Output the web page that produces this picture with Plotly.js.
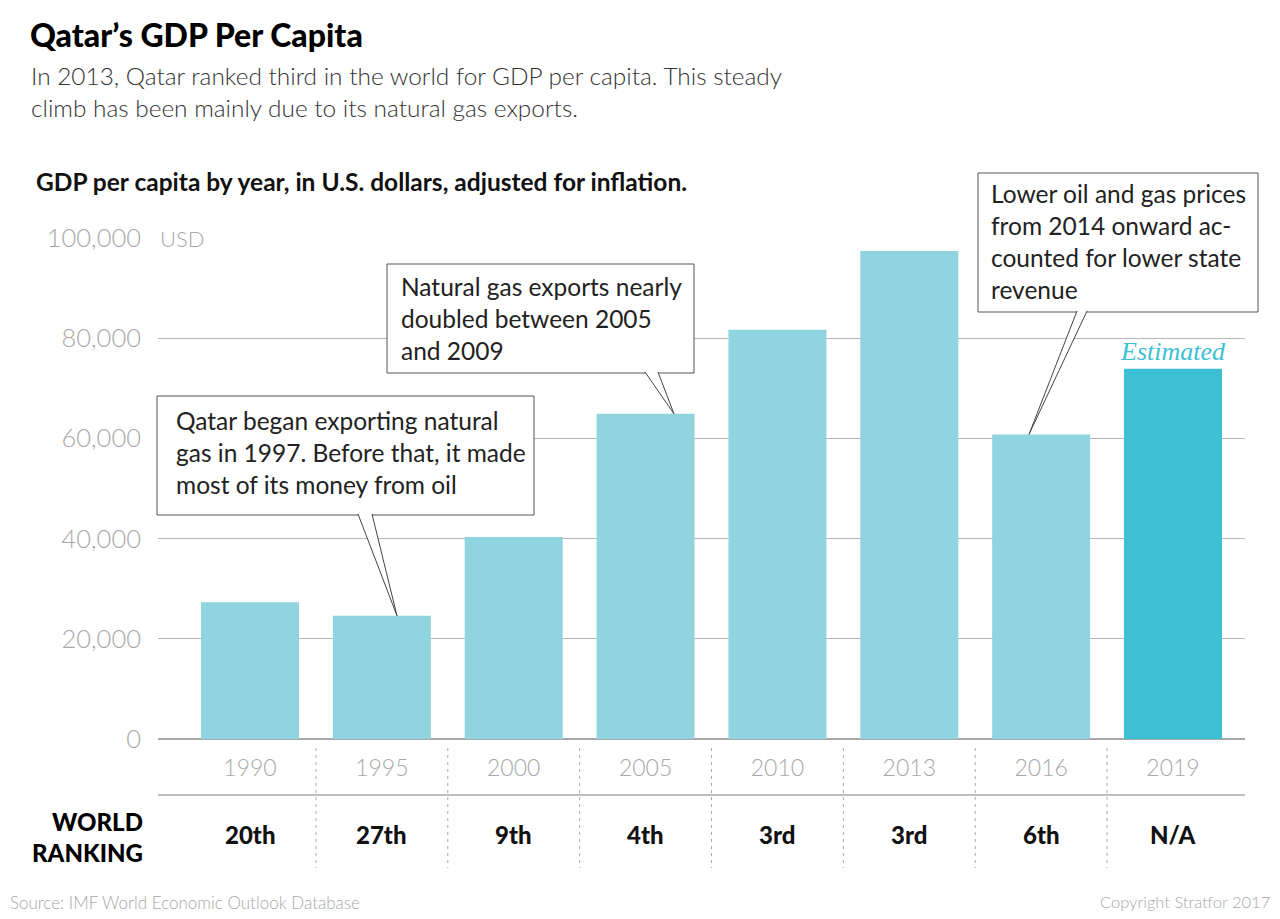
<!DOCTYPE html>
<html>
<head>
<meta charset="utf-8">
<script src="https://cdn.plot.ly/plotly-3.0.1.min.js"></script>
<style>
  html, body { margin: 0; padding: 0; background: #fff; }
  #chart { width: 1280px; height: 919px; }
</style>
</head>
<body>
<div id="chart"></div>
<script>
// Qatar GDP per capita (USD, inflation adjusted) and world ranking by year
const years = ['1990', '1995', '2000', '2005', '2010', '2013', '2016', '2019'];
const gdpPerCapita = [27300, 24600, 40300, 64900, 81700, 97400, 60800, 73900];
const worldRanking = ['20th', '27th', '9th', '4th', '3rd', '3rd', '6th', 'N/A'];
const isEstimate = [false, false, false, false, false, false, false, true];
const yTicks = [0, 20000, 40000, 60000, 80000, 100000];

// Callout notes: text and the bar each one points at
const noteTexts = [
  'Qatar began exporting natural<br>gas in 1997. Before that, it made<br>most of its money from oil',
  'Natural gas exports nearly<br>doubled between 2005<br>and 2009',
  'Lower oil and gas prices<br>from 2014 onward ac-<br>counted for lower state<br>revenue'
];
const noteTargets = ['1995', '2005', '2016'];

// ---- layout geometry (pixels) ----
const W = 1280, H = 919;
const M = { l: 158, r: 35, t: 238, b: 180 };
const PW = W - M.l - M.r, PH = H - M.t - M.b;
const YMAX = 100000;
const px = p => (p - M.l) / PW;          // page x -> paper x
const py = p => (H - M.b - p) / PH;      // page y -> paper y
const pyData = p => py(p) * YMAX;        // page y -> data y

const BAR_LIGHT = '#8fd4de';
const BAR_DARK = '#3dbfd4';
const GRID = '#b5b5b5';
const MUTED = '#a8a8a8';
const SANS = 'Lato, "Open Sans", sans-serif';

// callout box rectangles and pointer bases (page pixels)
const noteBoxes = [
  { x0: 157, x1: 534, y0: 396, y1: 515, tx: 174, ty: 404, base: [358, 372] },
  { x0: 387, x1: 694, y0: 264, y1: 373, tx: 399, ty: 270, base: [645, 658] },
  { x0: 978, x1: 1258, y0: 173, y1: 312, tx: 989, ty: 177, base: [1077, 1087] }
];
// pointer tip x positions (page pixels), tip y comes from the bar value
const noteTipX = [397, 674, 1029];

const barTrace = {
  type: 'bar',
  x: years,
  y: gdpPerCapita,
  width: 0.743,
  marker: { color: isEstimate.map(e => e ? BAR_DARK : BAR_LIGHT), line: { width: 0 } },
  hoverinfo: 'skip'
};

const shapes = [];
const annotations = [];

// hide the start of the top gridline where the unit label sits
shapes.push({
  type: 'rect', xref: 'paper', yref: 'paper', layer: 'above',
  x0: -0.002, x1: px(211), y0: py(241), y1: py(235),
  fillcolor: '#fff', line: { width: 0 }
});
annotations.push({
  xref: 'paper', yref: 'y', x: 0, y: YMAX, xanchor: 'left', yanchor: 'middle',
  text: 'USD', showarrow: false,
  font: { family: SANS, size: 22, weight: 300, color: MUTED }
});

// separator line between year labels and rankings
shapes.push({
  type: 'line', xref: 'paper', yref: 'paper', layer: 'above',
  x0: 0, x1: 1, y0: py(795), y1: py(795),
  line: { color: MUTED, width: 1.5 }
});
// dashed dividers between the year columns
for (let i = 0; i < years.length - 1; i++) {
  shapes.push({
    type: 'line', xref: 'x', yref: 'paper', layer: 'above',
    x0: i + 0.5, x1: i + 0.5, y0: py(748), y1: py(868),
    line: { color: MUTED, width: 1, dash: '3px,4px' }
  });
}

// rankings row (category index positions)
years.forEach((yr, i) => {
  annotations.push({
    xref: 'x', yref: 'paper', x: i, y: py(834), xanchor: 'center', yanchor: 'middle',
    text: worldRanking[i], showarrow: false,
    font: { family: SANS, size: 24, weight: 900, color: '#111' }
  });
});
annotations.push({
  xref: 'paper', yref: 'paper', x: px(145), y: py(837), xanchor: 'right', yanchor: 'middle',
  align: 'right', text: 'WORLD<br>RANKING', showarrow: false,
  font: { family: SANS, size: 24, weight: 900, color: '#000' }
});

// estimate label above the projected bar
years.forEach((yr, i) => {
  if (!isEstimate[i]) return;
  annotations.push({
    xref: 'x', yref: 'y', x: i, y: gdpPerCapita[i], xanchor: 'center', yanchor: 'bottom',
    yshift: 1, text: '<i>Estimated</i>', showarrow: false,
    font: { family: '"Liberation Serif", "DejaVu Serif", serif', size: 26, color: BAR_DARK }
  });
});

// callout boxes with wedge pointers
noteBoxes.forEach((b, k) => {
  shapes.push({
    type: 'rect', xref: 'paper', yref: 'paper', layer: 'above',
    x0: px(b.x0), x1: px(b.x1), y0: py(b.y1), y1: py(b.y0),
    fillcolor: '#fff', line: { color: '#555', width: 1 }
  });
  const idx = years.indexOf(noteTargets[k]);
  const tipY = gdpPerCapita[idx];
  const baseY = pyData(b.y1 - 1);
  shapes.push({
    type: 'path', xref: 'paper', yref: 'y', layer: 'above',
    path: `M ${px(b.base[0])},${baseY} L ${px(noteTipX[k])},${tipY} L ${px(b.base[1])},${baseY}`,
    fillcolor: '#fff', line: { color: '#444', width: 1 }
  });
  annotations.push({
    xref: 'paper', yref: 'paper', x: px(b.tx), y: py(b.ty), xanchor: 'left', yanchor: 'top',
    align: 'left', text: noteTexts[k], showarrow: false,
    font: { family: SANS, size: 24.5, color: '#222' }
  });
});

// header text
annotations.push({
  xref: 'paper', yref: 'paper', x: px(29), y: py(76), xanchor: 'left', yanchor: 'middle',
  text: 'In 2013, Qatar ranked third in the world for GDP per capita. This steady',
  showarrow: false, font: { family: SANS, size: 24.4, weight: 300, color: '#333' }
});
annotations.push({
  xref: 'paper', yref: 'paper', x: px(29), y: py(107), xanchor: 'left', yanchor: 'middle',
  text: 'climb has been mainly due to its natural gas exports.',
  showarrow: false, font: { family: SANS, size: 24.4, weight: 300, color: '#333' }
});
annotations.push({
  xref: 'paper', yref: 'paper', x: px(34), y: py(181), xanchor: 'left', yanchor: 'middle',
  text: 'GDP per capita by year, in U.S. dollars, adjusted for inflation.',
  showarrow: false, font: { family: SANS, size: 24.5, weight: 700, color: '#111' }
});

// footer
annotations.push({
  xref: 'paper', yref: 'paper', x: px(8), y: py(902), xanchor: 'left', yanchor: 'middle',
  text: 'Source: IMF World Economic Outlook Database', showarrow: false,
  font: { family: SANS, size: 17, weight: 300, color: MUTED }
});
annotations.push({
  xref: 'paper', yref: 'paper', x: px(1272), y: py(902), xanchor: 'right', yanchor: 'middle',
  text: 'Copyright Stratfor 2017', showarrow: false,
  font: { family: SANS, size: 16.5, weight: 300, color: MUTED }
});

const layout = {
  width: W, height: H,
  margin: M,
  paper_bgcolor: '#fff', plot_bgcolor: '#fff',
  showlegend: false,
  title: {
    text: 'Qatar’s GDP Per Capita',
    font: { family: SANS, size: 32, weight: 900, color: '#000' },
    xref: 'container', yref: 'container',
    x: 30 / W, xanchor: 'left', y: 1 - 36 / H, yanchor: 'middle'
  },
  xaxis: {
    type: 'category',
    range: [(M.l - 250) / 131.86, (W - M.r - 250) / 131.86],
    showgrid: false, showline: false, zeroline: false, ticks: '',
    ticklabelstandoff: 13,
    tickfont: { family: SANS, size: 23, weight: 300, color: MUTED },
    fixedrange: true
  },
  yaxis: {
    range: [0, YMAX],
    tickvals: yTicks,
    tickformat: ',d',
    showgrid: true, gridcolor: GRID, gridwidth: 1,
    zeroline: true, zerolinecolor: MUTED, zerolinewidth: 1.5,
    showline: false, ticks: '',
    ticklabelstandoff: 16,
    tickfont: { family: SANS, size: 25.5, weight: 300, color: MUTED },
    fixedrange: true
  },
  shapes: shapes,
  annotations: annotations
};

Plotly.newPlot('chart', [barTrace], layout, { displayModeBar: false, staticPlot: true });
</script>
</body>
</html>
